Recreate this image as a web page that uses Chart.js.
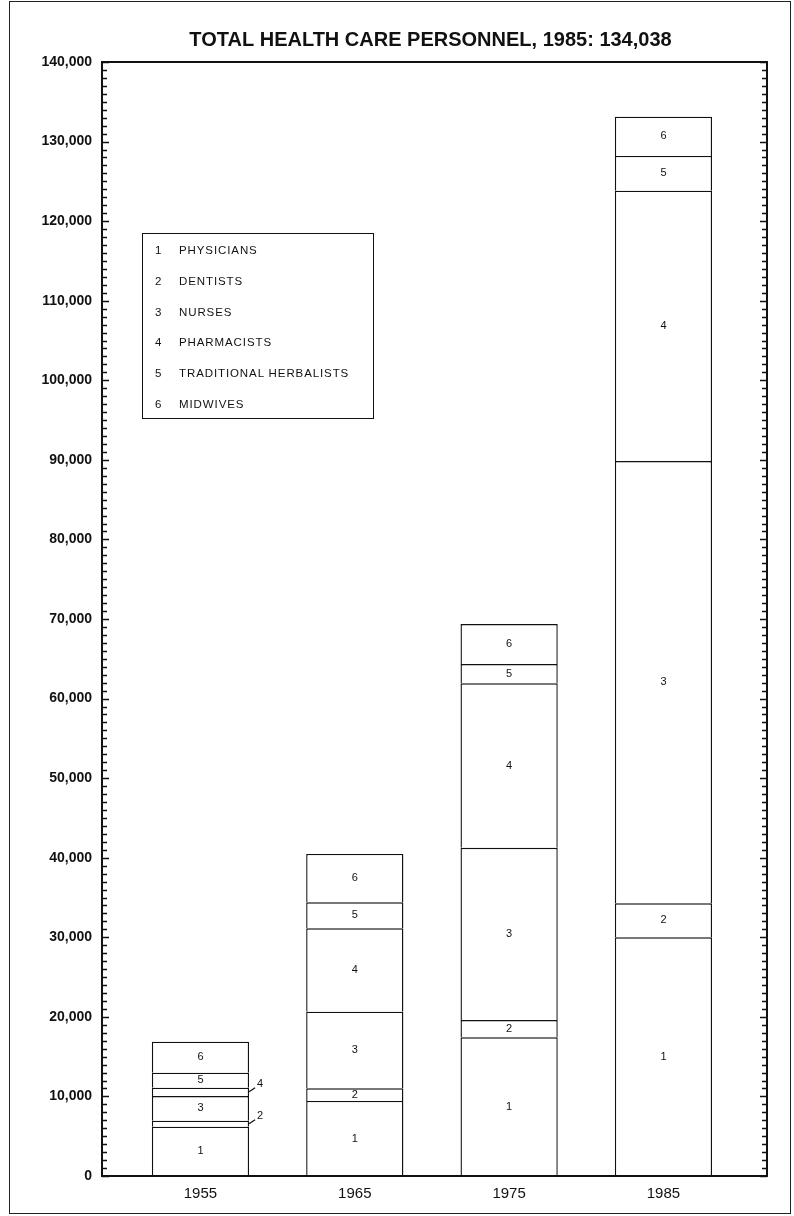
<!DOCTYPE html>
<html lang="en">
<head>
  <meta charset="UTF-8">
  <title>Total Health Care Personnel</title>
  <script src="https://cdn.jsdelivr.net/npm/chart.js"></script>
  <style>
    body {
      margin: 0;
      background: #fff;
      font-family: "Liberation Sans", Arial, sans-serif;
    }
    .page {
      position: relative;
      width: 794px;
      height: 1216px;
      overflow: hidden;
    }
    .frame {
      position: absolute;
      left: 9px;
      top: 1px;
      width: 780px;
      height: 1211px;
      border: 1.5px solid #222;
    }
    canvas {
      position: absolute;
      left: 0;
      top: 0;
    }
    .legend {
      position: absolute;
      left: 142px;
      top: 233px;
      width: 232px;
      height: 186px;
      border: 1.5px solid #111;
      box-sizing: border-box;
      padding-top: 1px;
      font-size: 11.5px;
      letter-spacing: 0.9px;
      color: #111;
    }
    .legend div {
      height: 30.8px;
      line-height: 30.8px;
      white-space: nowrap;
    }
    .legend span {
      display: inline-block;
      width: 24px;
      padding-left: 12px;
    }
  </style>
</head>
<body>
  <div class="page">
    <div class="frame"></div>
    <canvas id="chart" width="794" height="1216"></canvas>
    <div class="legend" id="legend"></div>
  </div>

  <script>
    // values
    const years = [1955, 1965, 1975, 1985];
    const seriesNames = ['PHYSICIANS', 'DENTISTS', 'NURSES', 'PHARMACISTS', 'TRADITIONAL HERBALISTS', 'MIDWIVES'];
    const physicians  = [6200, 9430, 17430, 30000];
    const dentists    = [750, 1590, 2175, 4270];
    const nurses      = [3100, 9630, 21650, 55580];
    const pharmacists = [1050, 10480, 20660, 33980];
    const herbalists  = [1880, 3270, 2430, 4360];
    const midwives    = [3900, 6070, 5020, 4940];
    const yTicks = [0, 10000, 20000, 30000, 40000, 50000, 60000, 70000,
                    80000, 90000, 100000, 110000, 120000, 130000, 140000];
    const titleText = 'TOTAL HEALTH CARE PERSONNEL, 1985: 134,038';

    const FONT = '"Liberation Sans", Arial, sans-serif';
    const series = [physicians, dentists, nurses, pharmacists, herbalists, midwives];

    // legend box
    const legend = document.getElementById('legend');
    seriesNames.forEach((name, i) => {
      const row = document.createElement('div');
      row.innerHTML = '<span>' + (i + 1) + '</span>' + name;
      legend.appendChild(row);
    });

    const datasets = series.map((arr, i) => ({
      label: seriesNames[i],
      data: years.map((yr, j) => ({ x: yr, y: arr[j] })),
      backgroundColor: '#fff',
      borderColor: '#111',
      borderWidth: 1.4,
      borderSkipped: 'bottom',
      barPercentage: 0.63,
      categoryPercentage: 1
    }));

    // frame, inward ticks, segment numbers and title
    const decor = {
      id: 'decor',
      afterDatasetsDraw(chart) {
        const ctx = chart.ctx;
        const a = chart.chartArea;
        const y = chart.scales.y;
        ctx.save();
        ctx.strokeStyle = '#111';
        ctx.lineWidth = 2;
        ctx.strokeRect(a.left, a.top, a.right - a.left, a.bottom - a.top);

        ctx.lineWidth = 1.3;
        ctx.beginPath();
        for (let v = 0; v <= 140000; v += 1000) {
          const py = Math.round(y.getPixelForValue(v)) + 0.5;
          const len = v % 10000 === 0 ? 7 : 5;
          ctx.moveTo(a.left, py); ctx.lineTo(a.left + len, py);
          ctx.moveTo(a.right, py); ctx.lineTo(a.right - len, py);
        }
        ctx.stroke();

        ctx.fillStyle = '#111';
        ctx.font = '11px ' + FONT;
        ctx.textAlign = 'center';
        ctx.textBaseline = 'middle';
        chart.data.datasets.forEach((ds, i) => {
          chart.getDatasetMeta(i).data.forEach(el => {
            const h = Math.abs(el.base - el.y);
            const cy = (el.base + el.y) / 2;
            if (h < 10) {
              const ex = el.x + el.width / 2;
              ctx.lineWidth = 1.2;
              ctx.beginPath();
              ctx.moveTo(ex, cy);
              ctx.lineTo(ex + 6, cy - 4);
              ctx.stroke();
              ctx.fillText(String(i + 1), ex + 11, cy - 8);
            } else {
              ctx.fillText(String(i + 1), el.x, cy);
            }
          });
        });

        ctx.font = 'bold 20px ' + FONT;
        ctx.fillText(titleText, (a.left + a.right) / 2 - 4, 40);
        ctx.restore();
      }
    };

    new Chart(document.getElementById('chart'), {
      type: 'bar',
      data: { datasets: datasets },
      options: {
        responsive: false,
        animation: false,
        layout: { padding: { top: 62, right: 27, left: 0, bottom: 0 } },
        plugins: {
          legend: { display: false },
          tooltip: { enabled: false },
          title: { display: false }
        },
        scales: {
          x: {
            type: 'linear',
            stacked: true,
            offset: false,
            bounds: 'data',
            min: 1948.62,
            max: 1991.71,
            grid: { display: false, drawTicks: false, offset: false },
            border: { display: false },
            afterBuildTicks: s => { s.ticks = years.map(v => ({ value: v })); },
            afterFit: s => { s.height = 40; },
            ticks: {
              callback: v => String(v),
              padding: 9,
              autoSkip: false,
              maxRotation: 0,
              color: '#111',
              font: { family: FONT, size: 15 }
            }
          },
          y: {
            stacked: true,
            min: 0,
            max: 140000,
            grid: { display: false, drawTicks: false },
            border: { display: false },
            afterBuildTicks: s => { s.ticks = yTicks.map(v => ({ value: v })); },
            afterFit: s => { s.width = 102; },
            ticks: {
              callback: v => v.toLocaleString('en-US'),
              padding: 10,
              color: '#111',
              font: { family: FONT, size: 14, weight: 'bold' }
            }
          }
        }
      },
      plugins: [decor]
    });
  </script>
</body>
</html>
